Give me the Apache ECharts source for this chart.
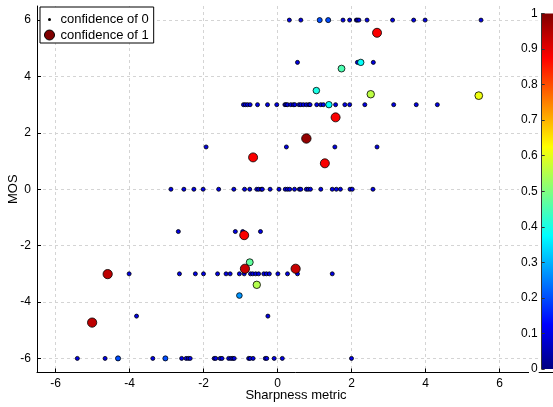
<!DOCTYPE html>
<html><head><meta charset="utf-8">
<script src="https://cdn.jsdelivr.net/npm/echarts@6/dist/echarts.min.js"></script>
<style>html,body{margin:0;padding:0;background:#fff}#c{width:553px;height:407px}</style>
</head><body><div id="c"></div>
<script>
const FONT = 'Liberation Sans, Arial, sans-serif';
const xTicks = [-6, -4, -2, 0, 2, 4, 6];
const yTicks = [-6, -4, -2, 0, 2, 4, 6];
const jetColors = ['#000080', '#0000ff', '#0080ff', '#00ffff', '#80ff80', '#ffff00', '#ff8000', '#ff0000', '#800000'];

// [sharpness metric, MOS, confidence]
const lowConfidence = [
  // MOS 6
  [0.32,6,0.1],[0.63,6,0.1],[1.14,6,0.2],[1.37,6,0.2],[1.77,6,0.1],[1.95,6,0.1],[2.13,6,0.1],[2.16,6,0.1],[2.20,6,0.1],[2.42,6,0.1],[3.11,6,0.1],[3.68,6,0.1],[3.99,6,0.1],[5.50,6,0.1],
  // MOS 4.5
  [0.54,4.5,0.1],[2.16,4.5,0.1],[2.59,4.5,0.1],[2.25,4.5,0.38],
  [1.73,4.28,0.45],[1.05,3.50,0.40],
  // MOS 3
  [-0.92,3,0.1],[-0.87,3,0.1],[-0.81,3,0.1],[-0.74,3,0.1],[-0.54,3,0.1],[-0.27,3,0.1],[-0.02,3,0.1],[0.20,3,0.1],[0.23,3,0.1],[0.27,3,0.1],[0.36,3,0.1],[0.43,3,0.1],[0.47,3,0.1],[0.58,3,0.1],[0.63,3,0.1],[0.70,3,0.1],[0.78,3,0.1],[0.85,3,0.1],[0.88,3,0.1],[1.06,3,0.1],[1.17,3,0.1],[1.24,3,0.1],[1.57,3,0.1],[1.82,3,0.1],[1.95,3,0.1],[2.36,3,0.1],[3.14,3,0.1],[3.75,3,0.1],[4.32,3,0.1],[1.39,3,0.38],
  // MOS 1.5
  [-1.93,1.5,0.1],[0.24,1.5,0.1],[1.55,1.5,0.1],[2.69,1.5,0.1],
  // MOS 0
  [-2.88,0,0.1],[-2.53,0,0.1],[-2.26,0,0.1],[-2.01,0,0.1],[-1.59,0,0.1],[-1.18,0,0.1],[-0.89,0,0.1],[-0.75,0,0.1],[-0.56,0,0.1],[-0.51,0,0.1],[-0.44,0,0.1],[-0.41,0,0.1],[-0.20,0,0.1],[0.04,0,0.1],[0.21,0,0.1],[0.27,0,0.1],[0.33,0,0.1],[0.46,0,0.1],[0.59,0,0.1],[0.63,0,0.1],[0.78,0,0.1],[0.83,0,0.1],[0.89,0,0.1],[1.17,0,0.1],[1.48,0,0.1],[1.59,0,0.1],[1.70,0,0.1],[1.96,0,0.1],[2.02,0,0.1],[2.58,0,0.1],
  // MOS -1.5
  [-2.68,-1.5,0.1],[-1.14,-1.5,0.1],[-0.94,-1.5,0.1],[-0.46,-1.5,0.1],
  [-0.75,-2.59,0.47],
  // MOS -3
  [-4.01,-3,0.1],[-2.65,-3,0.1],[-2.22,-3,0.1],[-2.00,-3,0.1],[-1.62,-3,0.1],[-1.39,-3,0.1],[-1.28,-3,0.1],[-1.03,-3,0.1],[-0.90,-3,0.1],[-0.73,-3,0.1],[-0.67,-3,0.1],[-0.59,-3,0.1],[-0.51,-3,0.1],[-0.37,-3,0.1],[-0.30,-3,0.1],[-0.22,-3,0.1],[0.01,-3,0.1],[0.27,-3,0.1],[0.54,-3,0.1],[1.48,-3,0.1],
  [-1.03,-3.77,0.27],
  // MOS -4.5
  [-3.81,-4.5,0.1],[-0.26,-4.5,0.1],
  // MOS -6
  [-5.41,-6,0.1],[-4.66,-6,0.1],[-4.31,-6,0.2],[-3.37,-6,0.1],[-3.03,-6,0.2],[-2.59,-6,0.1],[-2.47,-6,0.1],[-2.41,-6,0.1],[-2.36,-6,0.1],[-1.71,-6,0.1],[-1.67,-6,0.1],[-1.55,-6,0.1],[-1.50,-6,0.1],[-1.32,-6,0.1],[-1.26,-6,0.1],[-1.21,-6,0.1],[-1.17,-6,0.1],[-0.78,-6,0.1],[-0.74,-6,0.1],[-0.66,-6,0.1],[-0.33,-6,0.1],[-0.29,-6,0.1],[-0.09,-6,0.1],[0.13,-6,0.1],[2.0,-6,0.1]
];

const highConfidence = [
  [2.69,5.55,0.88],[1.57,2.55,0.88],[-0.66,1.13,0.88],[0.78,1.80,0.98],[1.28,0.92,0.88],
  [-0.90,-1.63,0.88],[-0.88,-2.82,0.93],[-4.59,-3.01,0.94],[0.49,-2.82,0.93],[-5.01,-4.73,0.94],
  [2.52,3.37,0.56],[5.44,3.32,0.61],[-0.56,-3.39,0.55]
];

const sizeOf = v => 1.5 + 8 * Math.sqrt(v[2]);
const axisText = { color: '#000', fontSize: 12, fontFamily: FONT };
const gridLine = { show: true, lineStyle: { color: '#d4d4d4', type: [3, 3], width: 1 } };

const chart = echarts.init(document.getElementById('c'), null, { renderer: 'canvas' });
chart.setOption({
  backgroundColor: '#fff',
  animation: false,
  textStyle: { fontFamily: FONT },
  grid: [
    { left: 37, right: -2, top: 6, bottom: 34.5, containLabel: false, outerBoundsMode: 'none' },
    { left: 541.7, right: 0, top: 13.5, bottom: 38, show: true, z: 10, borderWidth: 0, outerBoundsMode: 'none',
      backgroundColor: new echarts.graphic.LinearGradient(0, 1, 0, 0,
        jetColors.map((c, i) => ({ offset: i / (jetColors.length - 1), color: c }))) }
  ],
  xAxis: [
    { type: 'value', gridIndex: 0, min: -6.5, max: 7.5,
      name: 'Sharpness metric', nameLocation: 'middle', nameGap: 16, nameMoveOverlap: false,
      nameTextStyle: { color: '#000', fontSize: 13, fontFamily: FONT },
      axisLine: { show: true, onZero: false, lineStyle: { color: '#000', width: 1 } },
      axisTick: { show: true, inside: true, length: 4, customValues: xTicks, lineStyle: { color: '#000' } },
      axisLabel: { ...axisText, margin: 5, customValues: xTicks },
      splitLine: gridLine },
    { type: 'value', gridIndex: 1, show: false, min: 0, max: 1 }
  ],
  yAxis: [
    { type: 'value', gridIndex: 0, min: -6.5, max: 6.5,
      name: 'MOS', nameLocation: 'middle', nameGap: 17, nameMoveOverlap: false,
      nameTextStyle: { color: '#000', fontSize: 13, fontFamily: FONT },
      axisLine: { show: true, onZero: false, lineStyle: { color: '#000', width: 1 } },
      axisTick: { show: true, inside: true, length: 4, customValues: yTicks, lineStyle: { color: '#000' } },
      axisLabel: { ...axisText, margin: 6, customValues: yTicks },
      splitLine: gridLine },
    { type: 'value', gridIndex: 1, min: 0, max: 1, interval: 0.1, position: 'left', z: 11,
      axisLine: { show: true, lineStyle: { color: '#333', width: 1 } },
      axisTick: { show: true, inside: true, length: 3, lineStyle: { color: '#333' } },
      axisLabel: { ...axisText, margin: 3, backgroundColor: '#fff', padding: [1, 1, 1, 2] },
      splitLine: { show: false } }
  ],
  visualMap: {
    type: 'continuous', show: false, dimension: 2, min: 0, max: 1,
    seriesIndex: [0, 1], inRange: { color: jetColors }
  },
  legend: [
    { left: 40, top: 7, orient: 'vertical', padding: [6, 5, 17, 8], itemWidth: 12, itemHeight: 3,
      borderColor: '#000', borderWidth: 1, backgroundColor: '#fff', selectedMode: false, z: 5,
      textStyle: { color: '#000', fontSize: 13, fontFamily: FONT },
      data: [{ name: 'confidence of 0', icon: 'circle', itemStyle: { color: '#000', borderWidth: 0 } }] },
    { left: 44, top: 28.5, orient: 'vertical', padding: 0, itemWidth: 12, itemHeight: 10,
      selectedMode: false, z: 6,
      textStyle: { color: '#000', fontSize: 13, fontFamily: FONT },
      data: [{ name: 'confidence of 1', icon: 'circle', itemStyle: { color: '#800000', borderColor: '#000', borderWidth: 1 } }] }
  ],
  series: [
    { name: 'confidence of 0', type: 'scatter', xAxisIndex: 0, yAxisIndex: 0, symbol: 'circle',
      symbolSize: sizeOf, itemStyle: { borderColor: '#000', borderWidth: 0.8, opacity: 1 },
      data: lowConfidence },
    { name: 'confidence of 1', type: 'scatter', xAxisIndex: 0, yAxisIndex: 0, symbol: 'circle',
      symbolSize: sizeOf, itemStyle: { borderColor: '#000', borderWidth: 0.8, opacity: 1 },
      data: highConfidence }
  ]
});
</script></body></html>
